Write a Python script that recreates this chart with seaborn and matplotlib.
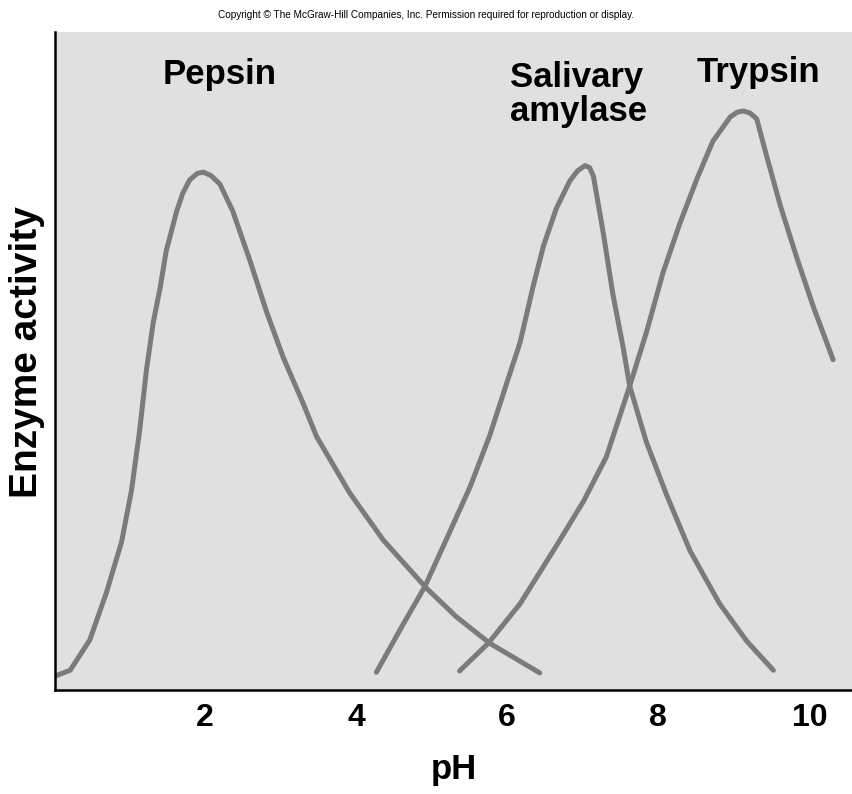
import pandas as pd
import matplotlib.pyplot as plt
import seaborn as sns

sns.set_theme(style="white")
plt.rcParams['font.family'] = ['Liberation Sans', 'DejaVu Sans']
plt.rcParams['text.color'] = 'black'
plt.rcParams['axes.labelcolor'] = 'black'
plt.rcParams['xtick.color'] = 'black'

# curves (pH, relative activity 0-100)
pepsin_ph = [0.04, 0.22, 0.48, 0.70, 0.90, 1.03, 1.14, 1.23, 1.32, 1.41, 1.49, 1.63, 1.71, 1.80,
             1.90, 1.98, 2.08, 2.20, 2.37, 2.60, 2.82, 3.04, 3.30, 3.48, 3.92, 4.36, 4.93, 5.33,
             5.77, 6.43]
pepsin_act = [2.2, 3.0, 7.6, 14.8, 22.5, 30.2, 39.5, 48.7, 55.9, 61.1, 66.7, 72.8, 75.5, 77.5,
              78.5, 78.7, 78.2, 76.9, 72.8, 65.2, 57.4, 50.5, 43.6, 38.5, 29.9, 22.8, 15.5, 11.1,
              7.1, 2.6]

amylase_ph = [4.27, 4.62, 4.91, 5.20, 5.51, 5.77, 5.99, 6.17, 6.34, 6.48, 6.65, 6.83, 6.93, 7.03,
              7.09, 7.14, 7.27, 7.40, 7.53, 7.62, 7.84, 8.11, 8.42, 8.81, 9.17, 9.52]
amylase_act = [2.7, 9.9, 15.7, 23.0, 30.9, 38.7, 46.5, 52.8, 61.2, 67.5, 73.2, 77.4, 78.9, 79.7,
               79.4, 78.1, 69.5, 60.0, 52.3, 46.2, 37.7, 29.6, 21.1, 13.1, 7.4, 3.0]

trypsin_ph = [5.37, 5.75, 6.17, 6.65, 7.01, 7.31, 7.62, 7.84, 8.06, 8.28, 8.51, 8.72, 8.95, 9.04,
              9.12, 9.21, 9.30, 9.43, 9.61, 9.83, 10.05, 10.31]
trypsin_act = [2.9, 7.1, 13.1, 21.9, 28.7, 35.4, 46.2, 54.3, 63.4, 70.8, 77.7, 83.4, 87.1, 87.8,
               88.0, 87.7, 86.8, 81.2, 73.7, 65.7, 58.2, 50.2]

xticks = [2, 4, 6, 8, 10]

df = pd.concat([
    pd.DataFrame({'ph': pepsin_ph, 'activity': pepsin_act, 'enzyme': 'Pepsin'}),
    pd.DataFrame({'ph': amylase_ph, 'activity': amylase_act, 'enzyme': 'Salivary amylase'}),
    pd.DataFrame({'ph': trypsin_ph, 'activity': trypsin_act, 'enzyme': 'Trypsin'}),
])

fig = plt.figure(figsize=(8.52, 7.94), dpi=100)
ax = fig.add_axes([55 / 852, 104 / 794, 797 / 852, 658 / 794])
ax.set_facecolor('#e0e0e0')

sns.lineplot(data=df, x='ph', y='activity', hue='enzyme', palette=['#7b7b7b'] * 3,
             linewidth=3.6, estimator=None, sort=False, legend=False, ax=ax)
for line in ax.lines:
    line.set_solid_capstyle('round')
    line.set_solid_joinstyle('round')

ax.set_xlim(0.02, 10.56)
ax.set_ylim(0, 100)
ax.set_xticks(xticks)
ax.set_xticklabels([str(t) for t in xticks], fontsize=23, fontweight='bold')
ax.set_yticks([])
ax.tick_params(axis='x', direction='in', length=7, width=1.4, color='black', pad=9)

for side in ['top', 'right']:
    ax.spines[side].set_visible(False)
for side in ['left', 'bottom']:
    ax.spines[side].set_color('black')
    ax.spines[side].set_linewidth(1.8)

ax.set_xlabel('pH', fontsize=25, fontweight='bold', labelpad=15)
ax.set_ylabel('Enzyme activity', fontsize=28, fontweight='bold')
ax.yaxis.set_label_coords(-0.013, 0.514)

lab = dict(fontsize=25, fontweight='bold', va='baseline', ha='left')
ax.text(1.445, 92.1, 'Pepsin', **lab)
ax.text(6.035, 91.6, 'Salivary', **lab)
ax.text(6.035, 86.4, 'amylase', **lab)
ax.text(8.51, 92.4, 'Trypsin', **lab)

fig.text(0.5, 1 - 15 / 794, 'Copyright \u00a9 The McGraw-Hill Companies, Inc. Permission required '
         'for reproduction or display.', ha='center', va='center', fontsize=7.2)

fig.savefig('out.png', dpi=100)
